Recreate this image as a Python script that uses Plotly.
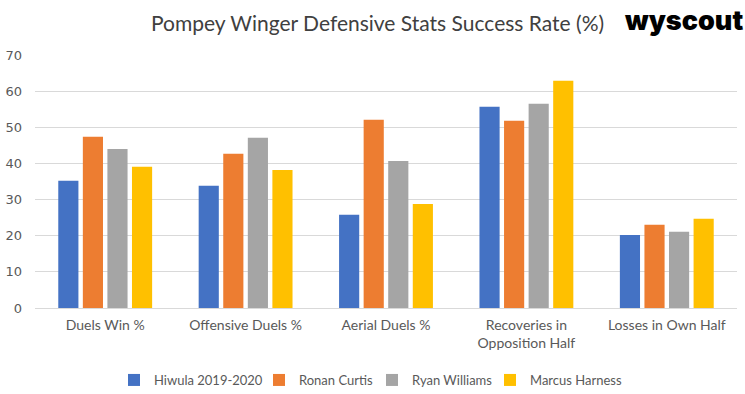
import plotly.graph_objects as go

categories = ["Duels Win %", "Offensive Duels %", "Aerial Duels %",
              "Recoveries in<br>Opposition Half", "Losses in Own Half"]
series_names = ["Hiwula 2019-2020", "Ronan Curtis", "Ryan Williams", "Marcus Harness"]
hiwula = [35.2, 33.8, 25.8, 55.7, 20.2]
curtis = [47.4, 42.7, 52.1, 51.8, 23.0]
williams = [44.0, 47.1, 40.7, 56.5, 21.1]
harness = [39.1, 38.2, 28.8, 62.9, 24.7]
colors = ["#4472C4", "#ED7D31", "#A5A5A5", "#FFC000"]
y_ticks = [0, 10, 20, 30, 40, 50, 60, 70]

# legend entry positions (symbol centres, px)
legend_x_px = [140, 285, 398, 516]
legend_ids = ["legend", "legend2", "legend3", "legend4"]

W, H = 745, 394
fig = go.Figure()
for name, vals, col, lid in zip(series_names, [hiwula, curtis, williams, harness],
                                colors, legend_ids):
    fig.add_trace(go.Bar(x=categories, y=vals, name=name, marker_color=col,
                         marker_line_width=0, legend=lid))

font_main = "Lato, 'Open Sans', sans-serif"
legend_layouts = {}
for lid, px in zip(legend_ids, legend_x_px):
    legend_layouts[lid] = dict(
        orientation="h", xref="container", x=(px - 26) / W, xanchor="left",
        yref="container", y=1 - 380 / H, yanchor="middle",
        font=dict(size=13, color="#595959", family=font_main),
        itemwidth=30, bgcolor="rgba(0,0,0,0)", borderwidth=0)

fig.update_layout(
    width=W, height=H,
    margin=dict(l=35, r=8, t=55, b=86, autoexpand=False),
    paper_bgcolor="white", plot_bgcolor="white",
    barmode="group", bargap=0.30, bargroupgap=0.18,
    font=dict(family=font_main, color="#595959", size=14),
    showlegend=True,
    xaxis=dict(showgrid=False, showline=True, linecolor="#d9d9d9", linewidth=1,
               ticks="", automargin=False, ticklabelstandoff=4,
               tickfont=dict(size=14, color="#595959", family=font_main)),
    yaxis=dict(range=[0, 70], tickvals=y_ticks, showgrid=True, gridcolor="#d9d9d9",
               gridwidth=1, zeroline=False, ticks="", automargin=False,
               tickfont=dict(size=13, color="#595959", family="DejaVu Sans"),
               ticklabelstandoff=12),
    annotations=[
        dict(text="Pompey Winger Defensive Stats Success Rate (%)", xref="paper", yref="paper",
             x=(377 - 35) / 702, y=1, yanchor="middle", xanchor="center", showarrow=False,
             yshift=33,
             font=dict(size=21, color="#404040", family=font_main)),
        dict(text="wyscout", xref="paper", yref="paper", x=(745 - 35) / 702,
             xanchor="right", y=1, yanchor="middle", yshift=35, showarrow=False,
             font=dict(size=27, color="black", family="Inter, 'DejaVu Sans', sans-serif",
                       weight=900)),
    ],
    **legend_layouts,
)
fig.write_html("out.html", config={"displayModeBar": False},
               post_script="document.body.style.margin='0';")
